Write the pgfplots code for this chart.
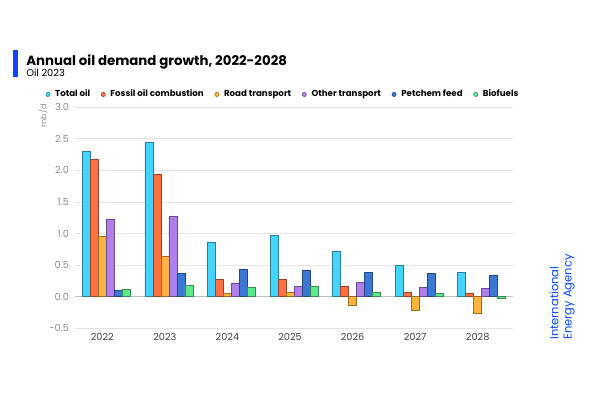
\documentclass[border=0pt]{standalone}
\usepackage{fontspec}
\setmainfont{Poppins}
\usepackage{pgfplots}
\pgfplotsset{compat=1.18}

\definecolor{cTotal}{HTML}{45D3FF}
\definecolor{cFossil}{HTML}{FF7043}
\definecolor{cRoad}{HTML}{FFB53D}
\definecolor{cOther}{HTML}{B07FEC}
\definecolor{cPet}{HTML}{3B78D6}
\definecolor{cBio}{HTML}{5EE88C}
\definecolor{ieablue}{HTML}{0A46FF}
\definecolor{gridgray}{HTML}{E3E3E3}

% year index, value
\pgfplotstableread{
x y
0 2.30
1 2.44
2 0.855
3 0.973
4 0.725
5 0.497
6 0.386
}\totaloil
\pgfplotstableread{
x y
0 2.17
1 1.94
2 0.28
3 0.28
4 0.17
5 0.07
6 0.055
}\fossil
\pgfplotstableread{
x y
0 0.96
1 0.645
2 0.054
3 0.075
4 -0.137
5 -0.216
6 -0.27
}\road
\pgfplotstableread{
x y
0 1.23
1 1.27
2 0.217
3 0.165
4 0.228
5 0.149
6 0.133
}\other
\pgfplotstableread{
x y
0 0.095
1 0.37
2 0.434
3 0.423
4 0.38
5 0.365
6 0.333
}\petchem
\pgfplotstableread{
x y
0 0.12
1 0.18
2 0.143
3 0.165
4 0.075
5 0.053
6 -0.032
}\biofuels

\begin{document}
\begin{tikzpicture}[x=1pt,y=1pt]
\path[fill=white] (0,0) rectangle (450,300);
% title block
\fill[ieablue] (9.75,242.25) rectangle (13.5,262.5);
\node[anchor=base west, inner sep=0pt, font=\fontsize{10}{12}\selectfont\bfseries] at (19.5,251) {Annual oil demand growth, 2022-2028};
\node[anchor=base west, inner sep=0pt, font=\fontsize{7.4}{9}\selectfont] at (19.5,242.5) {Oil 2023};
% agency mark
\node[rotate=90, anchor=north west, align=left, inner sep=0pt, text=ieablue,
      font=\fontsize{8.6}{10}\selectfont] at (412,45) {International\\Energy Agency};
% unit
\node[rotate=90, text=black!45, font=\fontsize{6}{7}\selectfont] at (32.5,213) {mb/d};

\begin{axis}[
    at={(56.25pt,53.8pt)}, anchor=south west,
    scale only axis,
    width=328.5pt, height=165.75pt,
    xmin=-0.5, xmax=6.5,
    ymin=-0.5, ymax=3.0,
    ytick={-0.5,0,0.5,1,1.5,2,2.5,3},
    yticklabel style={/pgf/number format/fixed, /pgf/number format/fixed zerofill,
        /pgf/number format/precision=1, text=black!45, xshift=-1pt},
    /pgf/number format/assume math mode=true,
    xtick={0,...,6},
    xticklabels={2022,2023,2024,2025,2026,2027,2028},
    xticklabel style={text=black!75, xshift=-3pt},
    tick label style={font=\fontsize{7.3}{9}\selectfont},
    major tick length=0pt,
    axis line style={draw=none},
    ymajorgrids,
    grid style={gridgray, line width=0.6pt},
    ybar=0pt, bar width=6pt,
    legend columns=-1,
    legend style={at={(-0.077,1.058)}, anchor=west, draw=none, fill=none,
        font=\fontsize{6.5}{8}\selectfont\bfseries,
        /tikz/every even column/.append style={column sep=6pt}},
    legend image code/.code={\fill (0pt,0pt) circle (1.6pt); \path (3.2pt,0pt);},
    clip=false,
]
\draw[black!25, line width=1.1pt] (axis cs:-0.5,0) -- (axis cs:6.5,0);
\addplot[fill=cTotal, draw=cTotal!60!black, line width=0.4pt] table {\totaloil};
\addlegendentry{Total oil}
\addplot[fill=cFossil, draw=cFossil!60!black, line width=0.4pt] table {\fossil};
\addlegendentry{Fossil oil combustion}
\addplot[fill=cRoad, draw=cRoad!60!black, line width=0.4pt] table {\road};
\addlegendentry{Road transport}
\addplot[fill=cOther, draw=cOther!60!black, line width=0.4pt] table {\other};
\addlegendentry{Other transport}
\addplot[fill=cPet, draw=cPet!60!black, line width=0.4pt] table {\petchem};
\addlegendentry{Petchem feed}
\addplot[fill=cBio, draw=cBio!60!black, line width=0.4pt] table {\biofuels};
\addlegendentry{Biofuels}
\end{axis}
\end{tikzpicture}
\end{document}
